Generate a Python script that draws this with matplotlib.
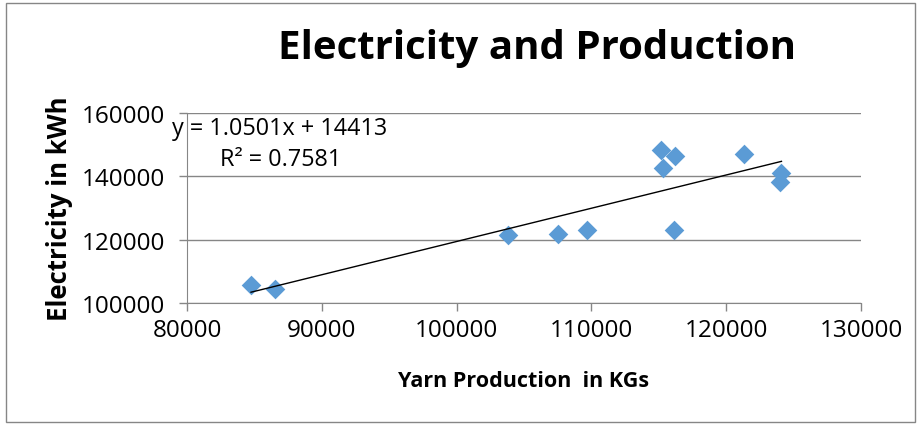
import numpy as np
import matplotlib.pyplot as plt
from matplotlib.patches import Rectangle

# yarn production (kg) vs electricity (kWh)
yarn = [84750, 86500, 103800, 107500, 109700, 115200, 115300, 116200, 116100, 121300, 124100, 124000]
elec = [105800, 104400, 121500, 121800, 123200, 148300, 142600, 146500, 123200, 147100, 141000, 138100]

slope, intercept = 1.0501, 14413  # trendline from the chart
r2_text = 'R² = 0.7581'

x_ticks = [80000, 90000, 100000, 110000, 120000, 130000]
y_ticks = [100000, 120000, 140000, 160000]

plt.rcParams['font.family'] = ['Open Sans', 'DejaVu Sans']

fig = plt.figure(figsize=(9.2, 4.27), dpi=100)
ax = fig.add_axes([187/920, 1-304/427, (861-187)/920, (304-114)/427])

ax.scatter(yarn, elec, marker='D', s=100, color='#5B9BD5', zorder=3, linewidths=0)

xs = np.array([min(yarn), max(yarn)])
ax.plot(xs, slope*xs+intercept, color='black', lw=1, zorder=4)

ax.set_xlim(80000, 130000)
ax.set_ylim(100000, 160000)
ax.set_xticks(x_ticks)
ax.set_yticks(y_ticks)
ax.tick_params(axis='both', labelsize=17.5, color='#868686', length=6, width=1)
ax.tick_params(axis='x', pad=5)
ax.tick_params(axis='y', pad=10)
ax.grid(axis='y', color='#868686', lw=1)
ax.set_axisbelow(True)
for s in ['top', 'right']:
    ax.spines[s].set_visible(False)
for s in ['left', 'bottom']:
    ax.spines[s].set_color('#868686')

ax.set_xlabel('Yarn Production  in KGs', fontsize=15.5, fontweight='bold', labelpad=20)
ax.set_ylabel('Electricity in kWh', fontsize=18.5, fontweight='bold', labelpad=6)

fig.text(537/920, 1-49/427, 'Electricity and Production', fontsize=29, fontweight='bold',
         ha='center', va='center')
fig.text(172/920, 1-129/427, 'y = 1.0501x + 14413', fontsize=16.8, ha='left', va='center')
fig.text(220/920, 1-160/427, r2_text, fontsize=16.8, ha='left', va='center')

fig.patches.append(Rectangle((6/920, 4/427), 909/920, 419/427, transform=fig.transFigure,
                             fill=False, edgecolor='#868686', lw=1))

fig.savefig('out.png', dpi=100)
